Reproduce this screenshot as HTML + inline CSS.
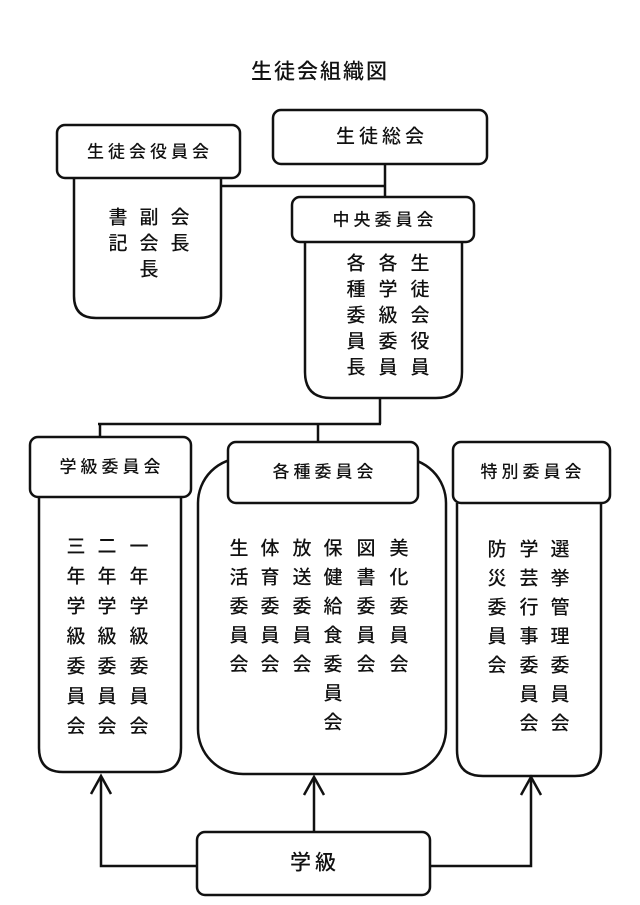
<!DOCTYPE html>
<html><head><meta charset="utf-8"><style>
html,body{margin:0;padding:0;background:#fff;}
svg{display:block;}
text{font-family:"Liberation Sans","Noto Sans CJK JP",sans-serif;fill:#111;text-anchor:middle;dominant-baseline:central;font-weight:500;}
.h{font-size:17px;letter-spacing:4px;}
.b{font-size:19px;}
</style></head><body>
<svg width="640" height="905" viewBox="0 0 640 905" xmlns="http://www.w3.org/2000/svg">
<g fill="none" stroke="#111" stroke-width="2.5">
<line x1="385" y1="164" x2="385" y2="197"/>
<line x1="221" y1="186" x2="385" y2="186"/>
<line x1="380" y1="398" x2="380" y2="424"/>
<line x1="98" y1="424" x2="381" y2="424"/>
<line x1="100" y1="424" x2="100" y2="437"/>
<line x1="318" y1="424" x2="318" y2="442"/>
<path d="M74 178 V296 Q74 318 96 318 H199 Q221 318 221 296 V178"/>
<rect x="57" y="125" width="183" height="53" rx="8"/>
<rect x="273" y="110" width="214" height="54" rx="8"/>
<path d="M305 242 V372 Q305 398 331 398 H436 Q462 398 462 372 V242"/>
<rect x="292" y="197" width="182" height="45" rx="8"/>
<path d="M39 497 V748 Q39 772 63 772 H157 Q181 772 181 748 V497"/>
<rect x="30" y="437" width="161" height="60" rx="8"/>
<rect x="198" y="458" width="248" height="316" rx="45" fill="#fff"/>
<rect x="228" y="442" width="190" height="61" rx="8" fill="#fff"/>
<path d="M457 503 V750 Q457 776 483 776 H575 Q601 776 601 750 V503"/>
<rect x="453" y="442" width="157" height="61" rx="8"/>
<rect x="197" y="832" width="233" height="63" rx="8"/>
<polyline points="197,866 101,866 101,776"/>
<polyline points="91,794 101,776 111,794"/>
<line x1="314" y1="832" x2="314" y2="777"/>
<polyline points="304,795 314,777 324,795"/>
<polyline points="430,866 531,866 531,777"/>
<polyline points="521,795 531,777 541,795"/>
</g>
<text x="320" y="72" style="font-size:21px;letter-spacing:2px">生徒会組織図</text>
<text class="h" x="150" y="152">生徒会役員会</text>
<text class="h" x="382" y="137" style="font-size:19px">生徒総会</text>
<text class="h" x="385" y="220">中央委員会</text>
<text class="h" x="112" y="467">学級委員会</text>
<text class="h" x="325" y="472">各種委員会</text>
<text class="h" x="533" y="472">特別委員会</text>
<text class="h" x="315" y="863" style="font-size:21px">学級</text>
<g class="b">
<text x="180" y="218">会</text><text x="180" y="244">長</text>
<text x="149" y="218">副</text><text x="149" y="244">会</text><text x="149" y="270">長</text>
<text x="118" y="218">書</text><text x="118" y="244">記</text>
<text x="420" y="264">生</text><text x="420" y="290">徒</text><text x="420" y="316">会</text><text x="420" y="342">役</text><text x="420" y="368">員</text>
<text x="388" y="264">各</text><text x="388" y="290">学</text><text x="388" y="316">級</text><text x="388" y="342">委</text><text x="388" y="368">員</text>
<text x="356" y="264">各</text><text x="356" y="290">種</text><text x="356" y="316">委</text><text x="356" y="342">員</text><text x="356" y="368">長</text>
<text x="139" y="547">一</text><text x="139" y="577">年</text><text x="139" y="607">学</text><text x="139" y="637">級</text><text x="139" y="667">委</text><text x="139" y="697">員</text><text x="139" y="727">会</text>
<text x="107" y="547">二</text><text x="107" y="577">年</text><text x="107" y="607">学</text><text x="107" y="637">級</text><text x="107" y="667">委</text><text x="107" y="697">員</text><text x="107" y="727">会</text>
<text x="76" y="547">三</text><text x="76" y="577">年</text><text x="76" y="607">学</text><text x="76" y="637">級</text><text x="76" y="667">委</text><text x="76" y="697">員</text><text x="76" y="727">会</text>
<text x="399" y="549">美</text><text x="399" y="578">化</text><text x="399" y="607">委</text><text x="399" y="636">員</text><text x="399" y="665">会</text>
<text x="366" y="549">図</text><text x="366" y="578">書</text><text x="366" y="607">委</text><text x="366" y="636">員</text><text x="366" y="665">会</text>
<text x="333" y="549">保</text><text x="333" y="578">健</text><text x="333" y="607">給</text><text x="333" y="636">食</text><text x="333" y="665">委</text><text x="333" y="694">員</text><text x="333" y="723">会</text>
<text x="302" y="549">放</text><text x="302" y="578">送</text><text x="302" y="607">委</text><text x="302" y="636">員</text><text x="302" y="665">会</text>
<text x="270" y="549">体</text><text x="270" y="578">育</text><text x="270" y="607">委</text><text x="270" y="636">員</text><text x="270" y="665">会</text>
<text x="239" y="549">生</text><text x="239" y="578">活</text><text x="239" y="607">委</text><text x="239" y="636">員</text><text x="239" y="665">会</text>
<text x="560" y="550">選</text><text x="560" y="579">挙</text><text x="560" y="608">管</text><text x="560" y="637">理</text><text x="560" y="666">委</text><text x="560" y="695">員</text><text x="560" y="724">会</text>
<text x="529" y="550">学</text><text x="529" y="579">芸</text><text x="529" y="608">行</text><text x="529" y="637">事</text><text x="529" y="666">委</text><text x="529" y="695">員</text><text x="529" y="724">会</text>
<text x="497" y="550">防</text><text x="497" y="579">災</text><text x="497" y="608">委</text><text x="497" y="637">員</text><text x="497" y="666">会</text>
</g>
</svg>
</body></html>
